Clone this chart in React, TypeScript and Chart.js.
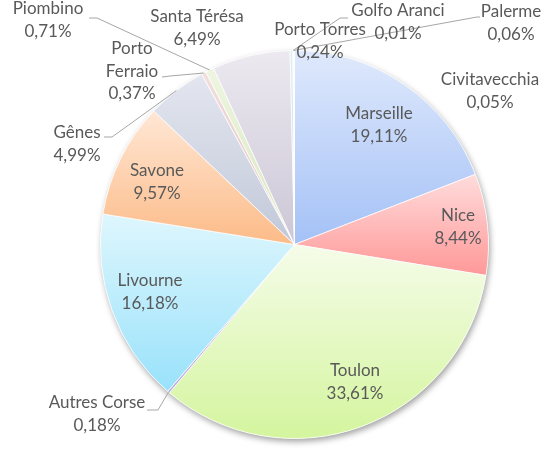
import React, { useEffect, useRef } from "react";
import { Chart, registerables } from "chart.js";

Chart.register(...registerables);

// ---- data ----
const categories = [
  "Marseille", "Nice", "Toulon", "Autres Corse", "Livourne", "Savone", "Gênes",
  "Porto Ferraio", "Piombino", "Santa Térésa", "Porto Torres", "Golfo Aranci",
  "Palerme", "Civitavecchia",
];
const shares = [19.11, 8.44, 33.61, 0.18, 16.18, 9.57, 4.99, 0.37, 0.71, 6.49, 0.24, 0.01, 0.06, 0.05];

// label text lines (category names may wrap)
const labelNameLines = [
  ["Marseille"], ["Nice"], ["Toulon"], ["Autres Corse"], ["Livourne"], ["Savone"], ["Gênes"],
  ["Porto", "Ferraio"], ["Piombino"], ["Santa Térésa"], ["Porto Torres"], ["Golfo Aranci"],
  ["Palerme"], ["Civitavecchia"],
];

// ---- styles ----
const topColors = [
  "#dfe9fc", "#ffdcdc", "#f5fce9", "#ddd2f1", "#def6fd", "#ffe7d5", "#e3e6ef",
  "#f3dede", "#eef5e2", "#ece9f0", "#ddeff3", "#fbe7d8", "#e6edf9", "#fbe4e4",
];
const bottomColors = [
  "#a4c1f6", "#ff9898", "#d4f59e", "#b8a5e0", "#99e2fb", "#fcbb88", "#c1c8d8",
  "#e4bfbf", "#d5e8ba", "#ccc6d6", "#bbdfe8", "#f2c8a8", "#c8d8f3", "#f2c2c2",
];
// label anchor (center of first text line) and leader start/elbow (layout only)
const labelPos: [number, number][] = [
  [379, 114], [458, 216], [355, 371], [97, 403], [150, 281], [157, 171], [77, 133],
  [132, 49], [48, 9], [197, 17], [320, 30], [398, 11], [511, 12], [490, 80],
];
const leaderStart: ([number, number, number, number] | null)[] = [
  null, null, null, [147, 410, 158, 410], null, null, [104, 137, 112, 137],
  [162, 77, 170, 76], [89, 18, 97, 18], null, null, [348, 18, 340, 18], [480, 17, 477, 17], null,
];
const LINE_H = 22.5;
const FONT = "17px Lato, 'Open Sans', sans-serif";
const TEXT_COLOR = "#595959";
const LEADER_COLOR = "#a6a6a6";
const BORDER_W = 1;

function fmt(v: number) {
  return v.toFixed(2).replace(".", ",") + "%";
}

function sliceGradient(chart: any, i: number) {
  const area = chart.chartArea;
  if (!area) return topColors[i];
  const cx = (area.left + area.right) / 2;
  const cy = (area.top + area.bottom) / 2;
  const r = (Math.min(area.right - area.left, area.bottom - area.top) - BORDER_W) / 2;
  const total = shares.reduce((a, b) => a + b, 0);
  let before = 0;
  for (let k = 0; k < i; k++) before += shares[k];
  const a0 = -Math.PI / 2 + (before / total) * Math.PI * 2;
  const a1 = a0 + (shares[i] / total) * Math.PI * 2;
  const ys = [cy, cy + r * Math.sin(a0), cy + r * Math.sin(a1)];
  for (let k = -2; k <= 4; k++) {
    const t = -Math.PI / 2 + k * Math.PI;
    if (t >= a0 && t <= a1) ys.push(cy + r * Math.sin(t));
  }
  let y0 = Math.min(...ys);
  let y1 = Math.max(...ys);
  if (y1 - y0 < 1) y1 = y0 + 1;
  const g = chart.ctx.createLinearGradient(0, y0, 0, y1);
  g.addColorStop(0, topColors[i]);
  g.addColorStop(1, bottomColors[i]);
  return g;
}

const shadowPlugin = {
  id: "pieShadow",
  beforeDatasetsDraw(chart: any) {
    const arc = chart.getDatasetMeta(0).data[0];
    if (!arc) return;
    const { x, y, outerRadius } = arc.getProps(["x", "y", "outerRadius"], true);
    const ctx = chart.ctx;
    ctx.save();
    ctx.shadowColor = "rgba(0,0,0,0.38)";
    ctx.shadowBlur = 6;
    ctx.shadowOffsetX = 1.5;
    ctx.shadowOffsetY = 3;
    ctx.beginPath();
    ctx.arc(x, y, outerRadius, 0, Math.PI * 2);
    ctx.fillStyle = "#ffffff";
    ctx.fill();
    ctx.restore();
  },
};

const labelPlugin = {
  id: "pieLabels",
  afterDatasetsDraw(chart: any) {
    const ctx = chart.ctx;
    const meta = chart.getDatasetMeta(0);
    ctx.save();
    // leader lines
    ctx.strokeStyle = LEADER_COLOR;
    ctx.lineWidth = 1;
    meta.data.forEach((arc: any, i: number) => {
      const ls = leaderStart[i];
      if (!ls) return;
      const { x, y, startAngle, endAngle, outerRadius } = arc.getProps(
        ["x", "y", "startAngle", "endAngle", "outerRadius"], true);
      const mid = (startAngle + endAngle) / 2;
      const ax = x + Math.cos(mid) * outerRadius;
      const ay = y + Math.sin(mid) * outerRadius;
      ctx.beginPath();
      ctx.moveTo(ls[0], ls[1]);
      ctx.lineTo(ls[2], ls[3]);
      ctx.lineTo(ax, ay);
      ctx.stroke();
    });
    // texts
    ctx.font = FONT;
    ctx.fillStyle = TEXT_COLOR;
    ctx.textAlign = "center";
    ctx.textBaseline = "middle";
    categories.forEach((_, i) => {
      const lines = [...labelNameLines[i], fmt(shares[i])];
      const [lx, ly] = labelPos[i];
      lines.forEach((t, j) => ctx.fillText(t, lx, ly + j * LINE_H));
    });
    ctx.restore();
  },
};

export default function App() {
  const ref = useRef<HTMLCanvasElement | null>(null);
  useEffect(() => {
    if (!ref.current) return;
    const chart = new Chart(ref.current, {
      type: "pie",
      data: {
        labels: categories,
        datasets: [
          {
            data: shares,
            backgroundColor: (c: any) => sliceGradient(c.chart, c.dataIndex),
            borderColor: "rgba(255,255,255,0.75)",
            borderWidth: BORDER_W,
            hoverOffset: 0,
          },
        ],
      },
      options: {
        responsive: false,
        animation: false,
        layout: { padding: { left: 100, right: 68, top: 50, bottom: 11 } },
        plugins: {
          legend: { display: false },
          tooltip: { enabled: false },
          title: { display: false },
        },
        events: [],
      },
      plugins: [shadowPlugin, labelPlugin],
    });
    return () => chart.destroy();
  }, []);
  return (
    <div style={{ position: "absolute", left: 0, top: 0, width: 557, height: 450, background: "#fff" }}>
      <canvas ref={ref} width={557} height={450} />
    </div>
  );
}
